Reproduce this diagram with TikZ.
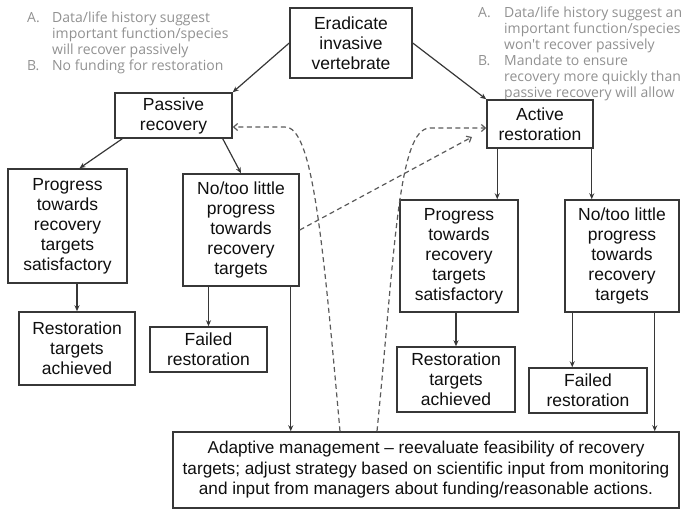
\documentclass[tikz,border=0pt]{standalone}
\usepackage{fontspec}
\setmainfont{Liberation Sans}
\newfontfamily\notefont{Open Sans}
\usetikzlibrary{arrows.meta,calc}
\definecolor{boxcol}{RGB}{55,55,55}
\definecolor{dashcol}{RGB}{90,90,90}
\definecolor{notecol}{RGB}{145,145,145}
\definecolor{txtcol}{RGB}{15,15,15}
\begin{document}
\begin{tikzpicture}[x=1pt,y=-1pt,
  box/.style={draw=boxcol, line width=1.5pt, fill=white, text=txtcol, align=center, inner sep=1pt, font=\fontsize{17.5}{20}\selectfont},
  arr/.style={draw=boxcol, line width=1.2pt, -{Stealth[length=6pt,width=5pt]}},
  dsh/.style={draw=dashcol, line width=1.2pt, dash pattern=on 5pt off 3.5pt, -{Straight Barb[length=4pt,width=7pt]}},
  note/.style={text=notecol, inner sep=0pt, anchor=north west, font=\notefont\fontsize{14}{16}\selectfont}]
\useasboundingbox (0,0) rectangle (681,512);

% gray notes
\node[note] (noteL) at (27,11) {\begin{tabular}{@{}p{25pt}@{}l@{}}A. & Data/life history suggest\\ & important function/species\\ & will recover passively\\ B. & No funding for restoration\end{tabular}};
\node[note] (noteR) at (478,6) {\begin{tabular}{@{}p{26pt}@{}l@{}}A. & Data/life history suggest an\\ & important function/species\\ & won't recover passively\\ B. & Mandate to ensure\\ & recovery more quickly than\\ & passive recovery will allow\end{tabular}};

% boxes
\node[box, minimum width=122pt, minimum height=70pt] (erad) at (351,43) {Eradicate\\invasive\\vertebrate};
\node[box, minimum width=117pt, minimum height=45pt] (passive) at (173.5,115.5) {Passive\\recovery};
\node[box, minimum width=106pt, minimum height=48pt] (active) at (540,124) {Active\\restoration};
\node[box, minimum width=119pt, minimum height=114pt] (prog1) at (67.5,226) {Progress\\towards\\recovery\\targets\\satisfactory};
\node[box, minimum width=116pt, minimum height=112pt] (no1) at (241,230) {No/too little\\progress\\towards\\recovery\\targets};
\node[box, minimum width=116pt, minimum height=73pt] (rest1) at (77,348.5) {Restoration\\targets\\achieved};
\node[box, minimum width=117pt, minimum height=45pt] (fail1) at (208.5,349.5) {Failed\\restoration};
\node[box, minimum width=118pt, minimum height=112pt] (prog2) at (459,256) {Progress\\towards\\recovery\\targets\\satisfactory};
\node[box, minimum width=114pt, minimum height=112pt] (no2) at (622,256) {No/too little\\progress\\towards\\recovery\\targets};
\node[box, minimum width=118pt, minimum height=65pt] (rest2) at (456,379.5) {Restoration\\targets\\achieved};
\node[box, minimum width=118pt, minimum height=45pt] (fail2) at (588,390.5) {Failed\\restoration};
\node[box, minimum width=506pt, minimum height=76pt, font=\fontsize{17.2}{20.5}\selectfont] (adapt) at (426,470) {Adaptive management -- reevaluate feasibility of recovery\\targets; adjust strategy based on scientific input from monitoring\\and input from managers about funding/reasonable actions.};

% solid arrows
\draw[arr] (erad.west) -- (passive.north east);
\draw[arr] (erad.east) -- (active.north west);
\draw[arr] ([xshift=8pt]passive.south west) -- ([xshift=12pt]prog1.north);
\draw[arr] ([xshift=-10pt]passive.south east) -- (no1.north);
\draw[arr] (prog1.south -| rest1.north) -- (rest1.north);
\draw[arr] (no1.south -| fail1.north) -- (fail1.north);
\coordinate (n1a) at ([xshift=-9pt]no1.south east);
\draw[arr] (n1a) -- (n1a |- adapt.north);
\coordinate (a1) at ([xshift=11pt]active.south west);
\draw[arr] (a1) -- (a1 |- prog2.north);
\coordinate (a2) at ([xshift=-2pt]active.south east);
\draw[arr] (a2) -- (a2 |- no2.north);
\draw[arr] (prog2.south -| rest2.north) -- (rest2.north);
\coordinate (n2a) at ([xshift=8pt]no2.south west);
\draw[arr] (n2a) -- (n2a |- fail2.north);
\coordinate (n2b) at ([xshift=-25pt]no2.south east);
\draw[arr] (n2b) -- (n2b |- adapt.north);

% dashed feedback
\coordinate (d1s) at ([xshift=-86pt]adapt.north);
\draw[dsh] (d1s) .. controls (322,230) and (312,127) .. (285,127) -- ([yshift=-11.5pt]passive.east);
\coordinate (d2s) at ([xshift=-49pt]adapt.north);
\draw[dsh] (d2s) .. controls (395,250) and (398,128) .. (430,128) -- ([yshift=-4pt]active.west);
\coordinate (d3e) at (472,137);
\draw[dsh] (no1.east) -- (d3e);
\end{tikzpicture}
\end{document}
